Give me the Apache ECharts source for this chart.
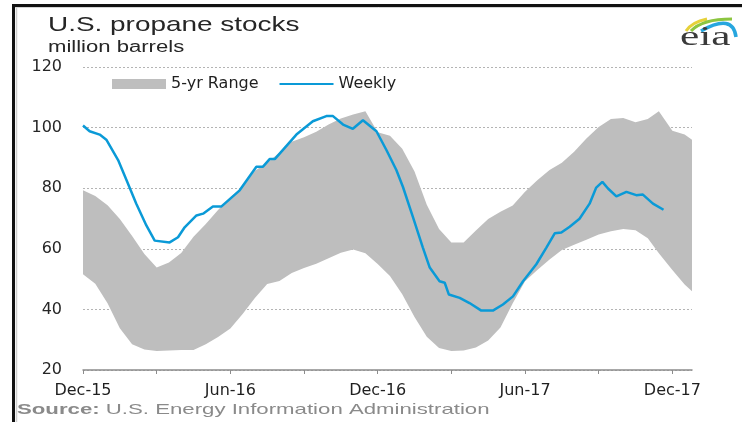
<!DOCTYPE html>
<html>
<head>
<meta charset="utf-8">
<script src="https://cdn.jsdelivr.net/npm/echarts/dist/echarts.min.js"></script>
<style>
  html, body { margin: 0; padding: 0; background: #fff; }
  #chart { width: 742px; height: 422px; }
</style>
</head>
<body>
<div id="chart"></div>
<script>
// x is months after Dec-15
const xTickMonths = [0, 3, 6, 9, 12, 15, 18, 21, 24];
const xLabelMonths = [0, 6, 12, 18, 24];
const xLabels = ['Dec-15', 'Jun-16', 'Dec-16', 'Jun-17', 'Dec-17'];

// 5-yr range, low and high at the same months
const bandMonth = [0, 0.5, 1, 1.5, 2, 2.5, 3, 3.5, 4, 4.5, 5, 5.5, 6, 6.5, 7, 7.5, 8, 8.5, 9, 9.5, 10, 10.5, 11,
  11.5, 12, 12.5, 13, 13.5, 14, 14.5, 15, 15.5, 16, 16.5, 17, 17.5, 18, 18.5, 19, 19.5, 20, 20.5, 21, 21.5, 22, 22.5, 23,
  23.45, 24, 24.5, 24.8];
const bandHigh = [79.3, 77.4, 74.4, 69.8, 64.2, 58.3, 53.8, 55.5, 58.6, 64, 68.2, 72.8, 77, 80.5, 85.8, 88.3, 91.8, 95.3, 96.8, 98.6, 101, 103, 104.3,
  105.4, 98.5, 97.3, 93, 85.5, 74.5, 66.5, 62.1, 62.1, 66, 69.8, 72.2, 74.3, 78.8, 82.6, 86, 88.4, 92, 96.4, 100.2, 102.8, 103.2, 101.8, 102.8,
  105.4, 99, 97.7, 96];
const bandLow = [51.6, 48.5, 42, 33.8, 28.5, 26.8, 26.3, 26.4, 26.6, 26.6, 28.5, 30.9, 33.7, 38.5, 43.8, 48.4, 49.4, 52, 53.7, 55.1, 56.9, 58.7, 59.8,
  58.5, 55, 51, 45, 37.5, 31, 27.3, 26.3, 26.4, 27.4, 29.7, 34, 42, 49.3, 53, 56.5, 59.6, 61.3, 63, 64.7, 65.8, 66.5, 66.1, 63.5,
  58.5, 53, 48.2, 46];

// weekly stocks
const weekMonth = [0, 0.27, 0.68, 0.95, 1.43, 1.77, 2.17, 2.58, 2.92, 3.53, 3.87, 4.14, 4.62, 4.89, 5.29, 5.64, 6.38, 7.06, 7.33, 7.6, 7.81,
  8.69, 9.36, 9.91, 10.18, 10.59, 10.99, 11.4, 11.95, 12.35, 12.76, 13.03, 13.44, 13.84, 14.12, 14.52, 14.73, 14.9, 15.34, 15.74,
  16.22, 16.69, 17.1, 17.51, 17.92, 18.46, 18.87, 19.21, 19.48, 19.82, 20.22, 20.63, 20.9, 21.15, 21.38, 21.72, 22.13, 22.53, 22.8,
  23.21, 23.64];
const weekly = [100.7, 98.8, 97.7, 96, 89.3, 82.7, 74.9, 67.7, 62.7, 62.1, 63.8, 67.1, 71, 71.6, 74, 74, 79.3, 87.1, 87.1, 89.6, 89.6,
  97.7, 102.1, 103.8, 103.8, 101, 99.6, 102.4, 98.8, 92.7, 86, 80.4, 70.4, 60.4, 53.8, 49.3, 48.8, 44.9, 43.8, 42.1,
  39.6, 39.6, 41.6, 44.3, 49.3, 54.9, 60.4, 65.1, 65.4, 67.3, 69.9, 74.9, 80.2, 82.1, 79.9, 77.3, 78.8, 77.7, 77.9,
  74.9, 72.9];

const chart = echarts.init(document.getElementById('chart'));

const labelFont = 'DejaVu Sans';
const bandColor = '#bebebe';
const lineColor = '#0a9ad7';

chart.setOption({
  animation: false,
  backgroundColor: '#fff',
  grid: { left: 83, right: 50, top: 67, bottom: 52 },
  legend: {
    data: [{ name: '5-yr Range', icon: 'rect' }, { name: 'Weekly', itemStyle: { opacity: 0 } }],
    left: 112,
    top: 76,
    padding: 0,
    itemWidth: 54,
    itemHeight: 10,
    itemGap: 20,
    textStyle: { fontFamily: labelFont, fontSize: 16, color: '#1f1f1f', lineHeight: 16 }
  },
  xAxis: {
    type: 'value',
    min: 0,
    max: 24.8,
    interval: 3,
    axisLine: { show: true, lineStyle: { color: '#8c8c8c', width: 1.5 } },
    axisTick: { show: true, length: 4, customValues: xTickMonths, lineStyle: { color: '#8c8c8c' } },
    splitLine: { show: false },
    axisLabel: {
      customValues: xLabelMonths,
      formatter: v => xLabels[xLabelMonths.indexOf(v)] || '',
      margin: 13,
      fontFamily: labelFont, fontSize: 16, color: '#1f1f1f'
    }
  },
  yAxis: {
    type: 'value',
    min: 20,
    max: 120,
    interval: 20,
    axisLine: { show: false },
    axisTick: { show: false },
    splitLine: { lineStyle: { color: '#b4b4b4', type: [2, 2], width: 1 } },
    axisLabel: { margin: 21, fontFamily: labelFont, fontSize: 16, color: '#262626' }
  },
  series: [
    {
      name: '5-yr Range',
      type: 'custom',
      silent: true,
      itemStyle: { color: bandColor },
      encode: { x: 0, y: [1, 2] },
      data: bandMonth.map((m, i) => [m, bandLow[i], bandHigh[i]]),
      renderItem: function (params, api) {
        if (params.dataIndex !== 0) return null; // one polygon for the whole band
        const top = bandMonth.map((m, i) => api.coord([m, bandHigh[i]]));
        const bottom = bandMonth.map((m, i) => api.coord([m, bandLow[i]])).reverse();
        return {
          type: 'polygon',
          shape: { points: top.concat(bottom) },
          style: { fill: bandColor }
        };
      }
    },
    {
      name: 'Weekly',
      type: 'line',
      symbol: 'none',
      z: 3,
      itemStyle: { color: lineColor },
      lineStyle: { color: lineColor, width: 2.5 },
      data: weekMonth.map((m, i) => [m, weekly[i]])
    }
  ],
  graphic: [
    // frame
    { type: 'line', shape: { x1: 13.5, y1: 4, x2: 13.5, y2: 422 }, style: { stroke: '#111', lineWidth: 3 } },
    { type: 'line', shape: { x1: 12, y1: 5.5, x2: 742, y2: 5.5 }, style: { stroke: '#111', lineWidth: 3 } },
    { type: 'line', shape: { x1: 16.5, y1: 7, x2: 16.5, y2: 422 }, style: { stroke: '#cfcfcf', lineWidth: 1.5 } },
    { type: 'line', shape: { x1: 15, y1: 7.5, x2: 742, y2: 7.5 }, style: { stroke: '#d4d4d4', lineWidth: 1 } },
    // titles
    {
      type: 'text', x: 48, y: 25.5, scaleX: 1.33,
      style: { text: 'U.S. propane stocks', fontFamily: 'Liberation Sans', fontSize: 21, fill: '#262626', verticalAlign: 'middle' }
    },
    {
      type: 'text', x: 48, y: 47.5, scaleX: 1.38,
      style: { text: 'million barrels', fontFamily: 'Liberation Sans', fontSize: 16, fill: '#262626', verticalAlign: 'middle' }
    },
    {
      type: 'text', x: 17, y: 410, scaleX: 1.48,
      style: {
        text: '{b|Source:} U.S. Energy Information Administration',
        fontFamily: 'Liberation Sans', fontSize: 15, fill: '#8a8a8a', verticalAlign: 'middle',
        rich: { b: { fontFamily: 'Liberation Sans', fontSize: 15, fontWeight: 'bold', fill: '#8a8a8a' } }
      }
    },
    // eia logo
    { type: 'bezierCurve', shape: { x1: 686, y1: 31, cpx1: 692, cpy1: 22, x2: 707, y2: 19 }, style: { stroke: '#e6d13a', lineWidth: 3, fill: null } },
    { type: 'bezierCurve', shape: { x1: 691, y1: 31, cpx1: 702, cpy1: 19, x2: 732, y2: 19 }, style: { stroke: '#8cc540', lineWidth: 3, fill: null } },
    { type: 'bezierCurve', shape: { x1: 701, y1: 31, cpx1: 733, cpy1: 13, x2: 736, y2: 37 }, style: { stroke: '#27a6de', lineWidth: 3.5, fill: null } },
    {
      type: 'text', x: 680, y: 38, scaleX: 1.55,
      style: { text: 'eia', fontFamily: 'Liberation Serif', fontSize: 28, fill: '#3a3a3a', verticalAlign: 'middle' }
    }
  ]
});
</script>
</body>
</html>
